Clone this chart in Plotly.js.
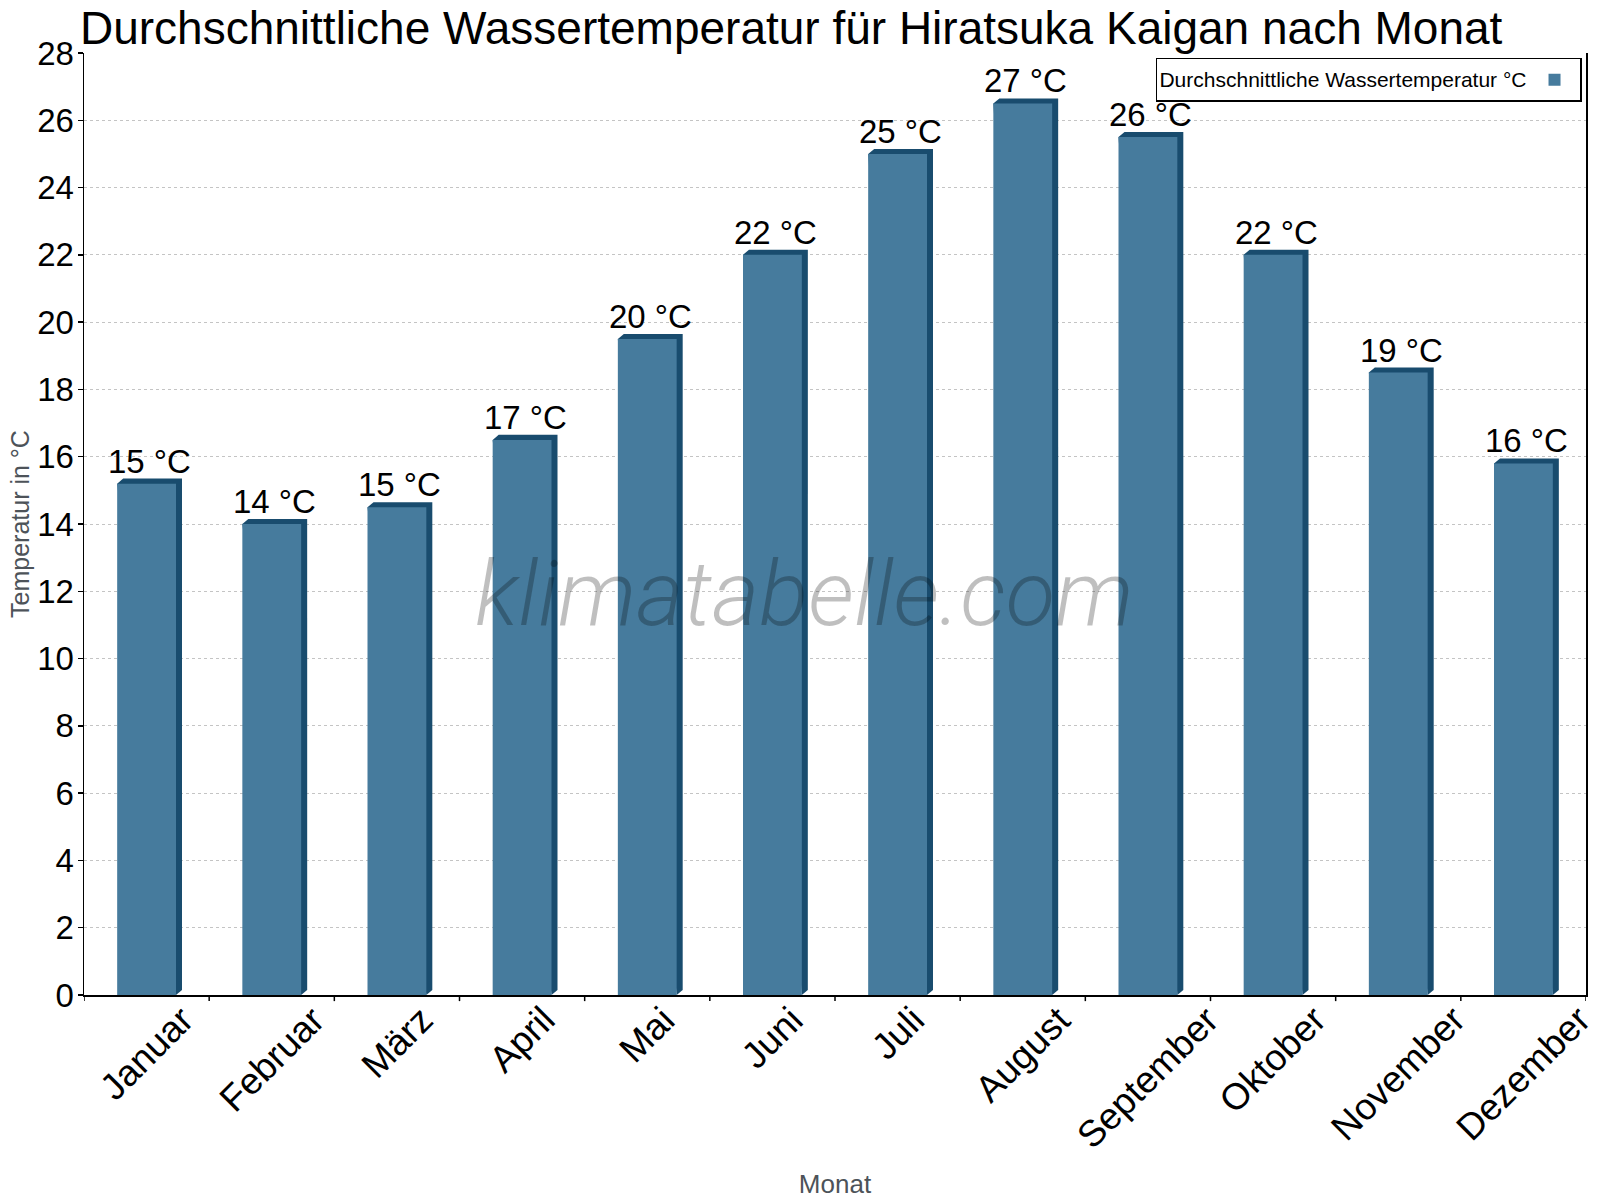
<!DOCTYPE html>
<html>
<head>
<meta charset="utf-8">
<script src="https://cdn.plot.ly/plotly-3.0.1.min.js"></script>
<style>html,body{margin:0;padding:0;background:#fff}#chart{width:1600px;height:1200px}</style>
</head>
<body>
<div id="chart"></div>
<script>
var months = ["Januar","Februar","März","April","Mai","Juni","Juli","August","September","Oktober","November","Dezember"];
var waterTemp = [15.2, 14.0, 14.5, 16.5, 19.5, 22.0, 25.0, 26.5, 25.5, 22.0, 18.5, 15.8];
var valueLabels = ["15 °C","14 °C","15 °C","17 °C","20 °C","22 °C","25 °C","27 °C","26 °C","22 °C","19 °C","16 °C"];
var seriesName = "Durchschnittliche Wassertemperatur °C";
var chartTitle = "Durchschnittliche Wassertemperatur für Hiratsuka Kaigan nach Monat";
var yTitle = "Temperatur in °C";
var xTitle = "Monat";
var watermark = "klimatabelle.com";

var FACE = "#467b9d", DARK = "#194c6e";
var W = 0.47, DX = 0.048, DY = 0.15;
var FONT = "Liberation Sans, Arial, sans-serif";

var shapes = [];
var annotations = [];
months.forEach(function(m, i){
  var v = waterTemp[i];
  var l = i - W/2, r = i + W/2;
  shapes.push({
    type: "path", xref: "x", yref: "y", layer: "between",
    path: "M " + l + "," + v + " L " + (l+DX) + "," + (v+DY) + " L " + (r+DX) + "," + (v+DY) +
          " L " + (r+DX) + "," + DY + " L " + r + ",0 Z",
    fillcolor: DARK, line: {width: 0}
  });
  annotations.push({
    x: i + DX/2, y: v + DY, xref: "x", yref: "y", text: valueLabels[i],
    showarrow: false, yanchor: "bottom", xanchor: "center", yshift: -3,
    font: {family: FONT, size: 33, color: "#000"}
  });
  // month labels: rotated, bounding box centred under the category
  annotations.push({
    x: i, y: 0, xref: "x", yref: "paper", text: m, textangle: -45,
    showarrow: false, yanchor: "top", xanchor: "center", yshift: -1,
    font: {family: FONT, size: 37, color: "#000"}
  });
});
annotations.push({
  x: 0.48, y: 0.426, xref: "paper", yref: "paper", text: watermark, showarrow: false,
  xanchor: "center", yanchor: "middle",
  font: {family: "Roboto, sans-serif", size: 91, weight: 300, style: "italic", color: "rgba(0,0,0,0.25)"}
});
annotations.push({
  x: (20 - 84) / 1501, y: 0.5, xref: "paper", yref: "paper", text: yTitle, textangle: -90,
  showarrow: false, xanchor: "center", yanchor: "middle",
  font: {family: FONT, size: 25, color: "#4d5359"}
});

var trace = {
  type: "bar", x: months.map(function(m,i){return i;}), y: waterTemp, width: W,
  name: "", marker: {color: FACE, line: {width: 0}}, showlegend: true,
  hoverinfo: "y"
};

var layout = {
  width: 1600, height: 1200,
  paper_bgcolor: "#fff", plot_bgcolor: "#fff",
  margin: {l: 84, r: 14, t: 53, b: 205, autoexpand: false},
  title: {text: chartTitle, x: 80/1600, xref: "container", xanchor: "left", y: 1 - 28/1200, yref: "container", yanchor: "middle",
          font: {family: FONT, size: 46, color: "#000"}},
  xaxis: {
    type: "linear", range: [-0.5, 11.5], tickmode: "array",
    tickvals: months.map(function(m,i){return i;}), ticktext: months, showticklabels: false,
    showgrid: false, zeroline: false, showline: true, linecolor: "#000", linewidth: 1.5,
    ticks: "",
    title: {text: xTitle, font: {family: FONT, size: 26, color: "#4d5359"}, standoff: 179},
    fixedrange: true
  },
  yaxis: {
    range: [0, 28], dtick: 2, tick0: 0,
    showgrid: true, gridcolor: "#c4c4c4", griddash: "dot", gridwidth: 1,
    zeroline: false, showline: true, linecolor: "#000", linewidth: 1.5, mirror: true,
    ticks: "outside", ticklen: 5, tickcolor: "#000", tickwidth: 1.5,
    tickfont: {family: FONT, size: 33, color: "#000"},
    ticklabelstandoff: -3,
    fixedrange: true
  },
  showlegend: true,
  legend: {
    x: 0.9973, y: 0.9947, xanchor: "right", yanchor: "top",
    bgcolor: "#fff", bordercolor: "#000", borderwidth: 1.5,
    font: {family: FONT, size: 21, color: "#000"},
    title: {text: seriesName, side: "left", font: {family: FONT, size: 21, color: "#000"}},
    itemwidth: 30
  },
  shapes: shapes,
  annotations: annotations
};

// boundary tick marks for the category axis
for (var k = 0; k <= months.length; k++) {
  shapes.push({type: "line", xref: "x", yref: "paper", x0: k - 0.5, x1: k - 0.5, y0: 0, y1: -0.0065,
               line: {color: "#000", width: 1.5}, layer: "above"});
}

Plotly.newPlot("chart", [trace], layout, {displayModeBar: false, staticPlot: true});
</script>
</body>
</html>
